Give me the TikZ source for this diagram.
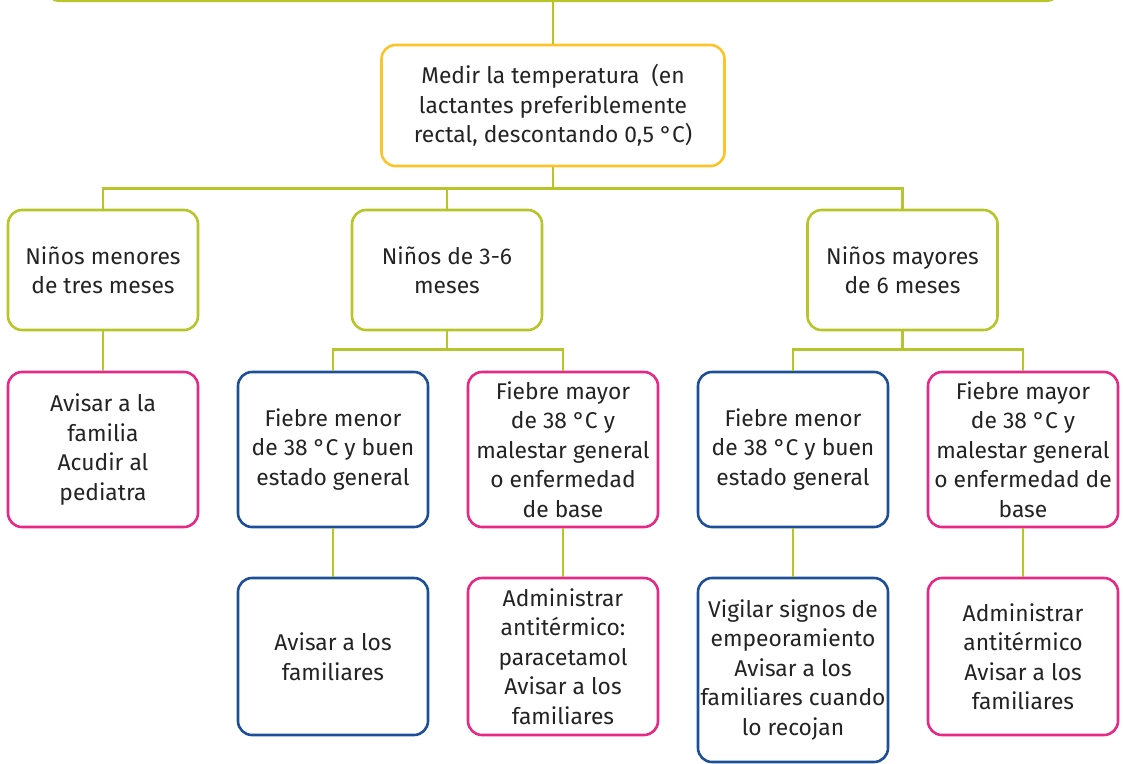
\documentclass[tikz,border=0pt]{standalone}
\usepackage{fontspec}
\setmainfont{Fira Sans}
\usetikzlibrary{positioning}
\definecolor{verde}{RGB}{184,197,40}
\definecolor{amarillo}{RGB}{252,196,40}
\definecolor{rosa}{RGB}{230,40,134}
\definecolor{azul}{RGB}{28,79,152}
\definecolor{texto}{RGB}{35,35,35}
\tikzset{
  box/.style={draw, rounded corners=14pt, line width=2.6pt, minimum width=190pt,
    align=center, inner sep=0pt, text=texto,
    font=\fontsize{22.8}{29.5}\selectfont},
  greenbox/.style={box, draw=verde, minimum height=120pt},
  yellowbox/.style={box, draw=amarillo, minimum width=343pt, minimum height=121pt},
  bluebox/.style={box, draw=azul, minimum height=155pt},
  pinkbox/.style={box, draw=rosa, minimum height=155pt},
  link/.style={draw=verde, line width=2.4pt},
}
\begin{document}
\begin{tikzpicture}[x=1pt, y=1pt]
  \clip (0,0) rectangle (1123,-763);
  % upper levels
  \node[greenbox, minimum width=1015pt, minimum height=60pt, anchor=south] (raiz) at (553,-2) {};
  \node[yellowbox] (medir) at (553,-105.5) {Medir la temperatura\ \ (en\\lactantes preferiblemente\\rectal, descontando 0,5 °C)};
  \node[greenbox] (menores) at (103,-270) {Niños menores\\de tres meses};
  \node[greenbox] (tresseis) at (447,-270) {Niños de 3-6\\meses};
  \node[greenbox] (mayores) at (902.5,-270) {Niños mayores\\de 6 meses};
  % fever
  \node[pinkbox] (avisarfamilia) at (103,-449.5) {Avisar a la\\familia\\Acudir al\\pediatra};
  \node[bluebox] (menorB) at (333,-449.5) {Fiebre menor\\de 38 °C y buen\\estado general};
  \node[pinkbox] (mayorB) at (563,-449.5) {Fiebre mayor\\de 38 °C y\\malestar general\\o enfermedad\\de base};
  \node[bluebox] (menorC) at (793,-449.5) {Fiebre menor\\de 38 °C y buen\\estado general};
  \node[pinkbox] (mayorC) at (1023,-449.5) {Fiebre mayor\\de 38 °C y\\malestar general\\o enfermedad de\\base};
  % actions
  \node[bluebox, minimum height=157pt] (avisarB) at (333,-656.5) {Avisar a los\\familiares};
  \node[pinkbox, minimum height=157pt] (antiB) at (563,-656.5) {Administrar\\antitérmico:\\paracetamol\\Avisar a los\\familiares};
  \node[bluebox, minimum height=184pt] (vigilarC) at (793,-670) {Vigilar signos de\\empeoramiento\\Avisar a los\\familiares cuando\\lo recojan};
  \node[pinkbox, minimum height=157pt] (antiC) at (1023,-656.5) {Administrar\\antitérmico\\Avisar a los\\familiares};
  % connectors
  \draw[link] (raiz.south) -- (medir.north);
  \draw[link] (medir.south) -- ++(0,-21) coordinate (busA);
  \foreach \n in {menores,tresseis,mayores}
    \draw[link] (busA) -| (\n.north);
  \draw[link] (tresseis.south) -- ++(0,-18) coordinate (busB);
  \foreach \n in {menorB,mayorB}
    \draw[link] (busB) -| (\n.north);
  \draw[link] (mayores.south) -- ++(0,-18) coordinate (busC);
  \foreach \n in {menorC,mayorC}
    \draw[link] (busC) -| (\n.north);
  \draw[link] (menores.south) -- (avisarfamilia.north);
  \draw[link] (menorB.south) -- (avisarB.north);
  \draw[link] (mayorB.south) -- (antiB.north);
  \draw[link] (menorC.south) -- (vigilarC.north);
  \draw[link] (mayorC.south) -- (antiC.north);
\end{tikzpicture}
\end{document}
